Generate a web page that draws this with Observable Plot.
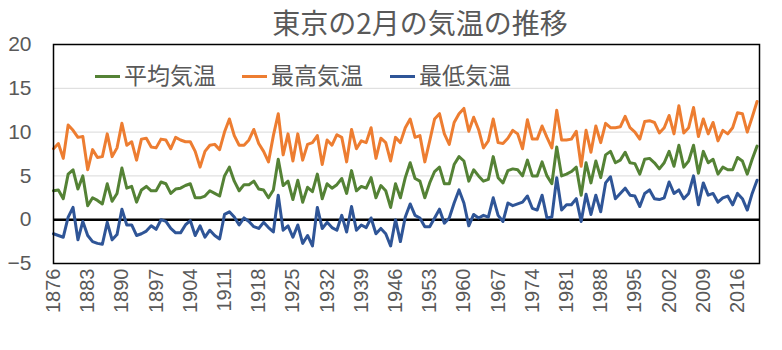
<!DOCTYPE html>
<html><head><meta charset="utf-8">
<script src="https://cdn.jsdelivr.net/npm/d3@7"></script>
<script src="https://cdn.jsdelivr.net/npm/@observablehq/plot@0.6"></script>
<style>
body{margin:0;background:#fff;}
#wrap{position:relative;width:782px;height:350px;overflow:hidden;}
#title{position:absolute;left:29px;width:782px;top:3px;text-align:center;font-family:"Noto Sans CJK JP",sans-serif;font-size:28px;color:#595959;line-height:38px;}
#legend{position:absolute;left:95px;top:59px;font-family:"Noto Sans CJK JP",sans-serif;font-size:23px;color:#595959;line-height:30px;white-space:nowrap;}
#legend .item{position:absolute;top:0;}
#legend .sw{display:inline-block;width:25px;height:3px;vertical-align:middle;margin-right:4px;position:relative;top:-1px;}
#chart{position:absolute;left:0;top:0;}
</style></head><body>
<div id="wrap"><div id="chart"></div><div id="title">東京の2月の気温の推移</div><div id="legend"></div></div>
<script>
const firstYear = 1876;
const seriesNames = ["平均気温", "最高気温", "最低気温"];
const seriesColors = ["#548235", "#ED7D31", "#2F5597"];
const xTicks = [1876,1883,1890,1897,1904,1911,1918,1925,1932,1939,1946,1953,1960,1967,1974,1981,1988,1995,2002,2009,2016];
const yTicks = [-5,0,5,10,15,20];
const gridLines = [15,10,5];

const avgTemp = [3.3,3.4,2.4,5.2,5.7,3.5,5.0,1.6,2.5,2.2,1.8,4.1,2.1,3.0,5.9,3.6,3.8,2.0,3.4,3.8,
3.3,3.3,4.3,4.1,3.0,3.5,3.6,3.9,4.1,2.5,2.5,2.7,3.3,3.0,2.7,5.0,6.0,4.4,3.3,4.0,
4.0,4.4,3.5,3.4,2.5,3.4,6.9,3.9,4.4,2.3,4.5,2.0,3.7,3.2,5.2,2.4,4.1,3.6,4.0,4.7,
3.0,5.6,3.3,3.8,3.6,4.8,2.5,3.9,3.3,1.4,4.1,2.5,4.8,6.5,4.7,4.4,2.5,4.2,5.5,6.0,
4.1,4.1,6.3,7.2,6.7,4.4,5.7,5.0,4.4,4.6,7.2,4.8,4.2,5.6,5.8,5.7,5.0,6.8,5.0,5.0,
6.6,5.0,4.1,8.3,5.0,5.2,5.5,6.0,2.8,6.5,4.2,6.7,4.8,7.4,7.8,6.5,6.8,7.7,6.5,6.4,
5.2,6.9,7.0,6.5,5.8,6.5,7.8,6.1,8.5,6.0,6.7,8.5,5.3,7.8,6.5,6.9,5.2,6.0,5.7,5.7,
7.1,6.7,5.2,6.9,8.4];
const maxTemp = [8.1,8.7,7.0,10.8,10.2,9.4,9.5,5.7,8.0,7.1,7.2,9.8,7.2,8.2,11.0,8.5,8.9,6.8,9.2,9.3,
8.3,8.2,9.2,9.1,8.1,9.4,9.1,8.9,8.9,7.8,6.0,7.8,8.5,8.6,8.0,10.0,11.5,9.6,8.5,8.5,
9.1,10.3,8.7,7.8,6.6,9.6,12.1,7.4,9.8,6.7,9.8,6.8,8.6,8.8,9.6,6.3,9.1,8.5,9.7,9.4,
6.6,10.3,8.1,9.0,8.8,10.5,7.0,9.3,8.8,6.7,9.4,8.8,10.5,11.5,9.4,9.6,6.6,9.0,11.5,12.1,
9.8,8.6,11.1,12.1,12.7,10.1,11.7,10.3,8.2,9.0,11.5,8.8,8.7,9.3,10.2,9.8,8.1,11.4,9.2,9.2,
10.7,9.4,8.2,12.5,9.1,9.1,9.2,10.1,6.1,10.2,7.7,10.7,8.8,11.0,10.5,10.5,10.6,11.8,10.5,10.0,
9.2,11.2,11.3,11.1,9.9,10.5,11.9,9.8,13.0,9.9,10.5,12.8,9.5,11.5,9.8,11.1,9.0,10.2,9.8,10.5,
12.2,12.1,10.0,11.7,13.5];
const minTemp = [-1.6,-1.8,-2.0,0.3,1.4,-2.3,-0.2,-1.8,-2.5,-2.7,-2.8,-0.3,-2.3,-1.7,1.2,-0.6,-0.6,-1.8,-1.6,-1.3,
-0.7,-1.1,0.0,-0.2,-1.0,-1.5,-1.5,-0.6,-0.1,-1.8,-0.7,-2.0,-1.2,-1.8,-2.2,0.6,0.9,0.3,-0.6,0.2,
-0.2,-0.8,-1.0,-0.3,-0.9,-1.4,2.8,-1.2,-0.7,-2.0,-0.6,-2.7,-1.8,-3.0,1.4,-1.0,-0.3,-0.9,-1.2,0.5,
-1.4,1.5,-1.2,-0.6,-0.9,0.2,-1.6,-1.0,-1.6,-3.0,0.0,-2.5,0.3,1.8,0.5,0.2,-0.8,-0.8,0.2,1.2,
-0.4,0.2,1.9,3.4,1.9,-0.7,0.6,0.2,0.5,0.3,2.5,0.5,-0.2,1.9,1.6,1.8,2.0,2.7,1.3,1.1,
2.8,0.2,0.3,4.8,1.1,1.7,1.7,2.4,-0.2,2.9,0.6,2.8,0.9,4.2,4.9,2.4,3.0,3.6,2.8,2.7,
1.5,3.0,3.4,2.4,2.3,2.5,4.3,3.0,3.4,2.4,3.0,5.0,1.7,4.2,2.8,3.0,2.0,2.5,2.7,1.7,
3.0,2.4,1.1,3.0,4.5];

const seriesValues = [avgTemp, maxTemp, minTemp];
const rows = [];
seriesNames.forEach((name, s) => {
  seriesValues[s].forEach((v, i) => rows.push({year: firstYear + i, value: v, name}));
});

const font = '"Liberation Sans Narrow","Liberation Sans","Noto Sans",sans-serif';
const chart = Plot.plot({
  width: 782, height: 350,
  marginTop: 44, marginBottom: 87, marginLeft: 53, marginRight: 23,
  style: {fontFamily: font, color: "#595959", background: "transparent"},
  x: {type: "linear", domain: [firstYear, 2020.5], label: null},
  y: {domain: [-5, 20], label: null},
  color: {domain: seriesNames, range: seriesColors},
  marks: [
    Plot.ruleY(gridLines, {stroke: "#d9d9d9", strokeWidth: 1}),
    Plot.ruleY([0], {stroke: "#000", strokeWidth: 2.5}),
    Plot.lineY(rows, {x: "year", y: "value", stroke: "name", z: "name", strokeWidth: 3, strokeLinejoin: "round"}),
    Plot.frame({stroke: "#000", strokeWidth: 1.5}),
    Plot.axisY(yTicks, {tickSize: 0, tickPadding: 22, fontSize: 21, fill: "#595959", label: null}),
    Plot.axisX(xTicks, {tickSize: 0, tickPadding: 5, tickRotate: -90, fontSize: 20, fill: "#595959", label: null, tickFormat: d => String(d)})
  ]
});
document.getElementById("chart").appendChild(chart);

const legend = document.getElementById("legend");
const legendOffsets = [0, 147, 295];
seriesNames.forEach((name, i) => {
  const item = document.createElement("span");
  item.className = "item";
  item.style.left = legendOffsets[i] + "px";
  const sw = document.createElement("span");
  sw.className = "sw";
  sw.style.background = seriesColors[i];
  item.appendChild(sw);
  item.appendChild(document.createTextNode(name));
  legend.appendChild(item);
});
</script>
</body></html>
